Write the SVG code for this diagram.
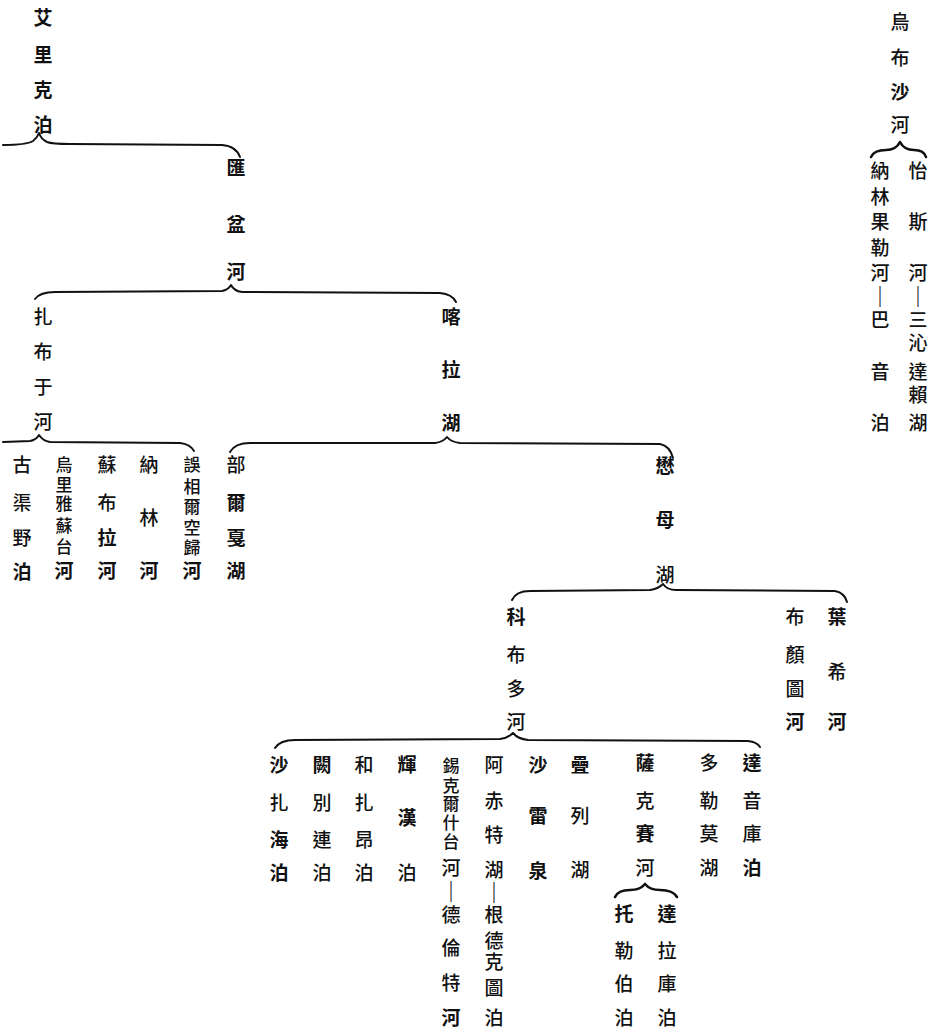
<svg xmlns="http://www.w3.org/2000/svg" width="938" height="1030" viewBox="0 0 938 1030">
<style>
text{font-family:"Liberation Serif","Noto Sans CJK TC","Noto Sans CJK SC",serif;font-size:19px;font-weight:500;fill:#111;text-anchor:middle;dominant-baseline:central}
.s{font-size:17px}
.b{font-weight:bold}
.n{font-weight:500}
.d{font-size:21px;font-weight:bold}
.br{fill:none;stroke:#111;stroke-width:2;stroke-linecap:round;stroke-linejoin:round}
.bt{stroke-width:2.6}
</style>
<rect width="938" height="1030" fill="#fff"/>
<g id="connectors">
<path class="br" d="M3,145 C15,145 28,144 33,141 Q37,138 39,133 Q41,139 47,142 C52,144 60,144 70,144 L222,145 Q236,146 240,157"/>
<path class="br" d="M35,299 Q40,292 55,292 L222,291 Q228,290 231,285 Q234,291 242,292 L440,293 Q452,294 456,302"/>
<path class="br" d="M3,442 L30,441 Q36,440 39,435 Q43,441 50,442 L180,443 Q190,444 194,451"/>
<path class="br" d="M230,452 Q235,443 250,443 L435,443 Q443,442 447,437 Q451,442 460,443 L660,444 Q670,446 673,458"/>
<path class="br" d="M512,600 Q516,591 530,591 L650,590 Q658,589 663,584 Q667,590 676,590 L835,591 Q845,593 847,602"/>
<path class="br" d="M275,748 Q280,740 295,740 L500,739 Q508,738 513,733 Q518,739 528,740 L748,741 Q757,742 760,747"/>
<path class="br bt" d="M615,897 Q618,890 630,890 Q640,890 645,884 Q650,890 660,890 Q673,890 677,897"/>
<path class="br bt" d="M871,157 Q874,150 886,150 Q896,150 900,142 Q904,150 914,150 Q924,150 926,157"/>
</g>
<g id="n-aili"><text class="b"><tspan x="43" y="18">艾</tspan><tspan x="43" y="55">里</tspan><tspan x="43" y="90">克</tspan><tspan x="43" y="125">泊</tspan></text></g>
<g id="n-huipen"><text class="b"><tspan x="236" y="168">匯</tspan><tspan x="236" y="225">盆</tspan><tspan x="236" y="272">河</tspan></text></g>
<g id="n-zabuyu"><text><tspan x="43" y="317">扎</tspan><tspan x="43" y="352">布</tspan><tspan x="43" y="387">于</tspan><tspan x="43" y="422">河</tspan></text></g>
<g id="n-kala"><text class="b"><tspan x="451" y="317">喀</tspan><tspan x="451" y="370">拉</tspan><tspan x="451" y="423">湖</tspan></text></g>
<g id="n-guqu"><text><tspan x="22" y="465">古</tspan><tspan x="22" y="503">渠</tspan><tspan x="22" y="538">野</tspan><tspan x="22" y="572" class="b">泊</tspan></text></g>
<g id="n-wuliyasutai"><text class="s"><tspan x="64" y="465">烏</tspan><tspan x="64" y="485">里</tspan><tspan x="64" y="504">雅</tspan><tspan x="64" y="526">蘇</tspan><tspan x="64" y="547">台</tspan><tspan x="64" y="571" class="b" style="font-size:19px">河</tspan></text></g>
<g id="n-subula"><text><tspan x="107" y="465">蘇</tspan><tspan x="107" y="503">布</tspan><tspan x="107" y="538" class="b">拉</tspan><tspan x="107" y="571" class="b">河</tspan></text></g>
<g id="n-nalin"><text><tspan x="149" y="465">納</tspan><tspan x="149" y="518">林</tspan><tspan x="149" y="571" class="b">河</tspan></text></g>
<g id="n-wuxiang"><text class="s"><tspan x="192" y="465">誤</tspan><tspan x="192" y="487">相</tspan><tspan x="192" y="507">爾</tspan><tspan x="192" y="528">空</tspan><tspan x="192" y="548">歸</tspan><tspan x="192" y="571" class="b" style="font-size:19px">河</tspan></text></g>
<g id="n-buerjia"><text><tspan x="236" y="465">部</tspan><tspan x="236" y="503" class="b">爾</tspan><tspan x="236" y="538" class="b">戛</tspan><tspan x="236" y="571" class="b">湖</tspan></text></g>
<g id="n-maomu"><text class="b"><tspan x="665" y="466">懋</tspan><tspan x="665" y="520">母</tspan><tspan x="665" y="575" class="n">湖</tspan></text></g>
<g id="n-kebuduo"><text><tspan x="516" y="617" class="b">科</tspan><tspan x="516" y="655">布</tspan><tspan x="516" y="689">多</tspan><tspan x="516" y="722">河</tspan></text></g>
<g id="n-buyantu"><text><tspan x="795" y="617">布</tspan><tspan x="795" y="655">顏</tspan><tspan x="795" y="689">圖</tspan><tspan x="795" y="722" class="b">河</tspan></text></g>
<g id="n-yexi"><text><tspan x="837" y="617" class="b">葉</tspan><tspan x="837" y="672">希</tspan><tspan x="837" y="722" class="b">河</tspan></text></g>
<g id="n-shazhahai"><text class="b"><tspan x="279" y="765">沙</tspan><tspan x="279" y="803" class="n">扎</tspan><tspan x="279" y="840">海</tspan><tspan x="279" y="873">泊</tspan></text></g>
<g id="n-quebielian"><text><tspan x="322" y="765" class="b">闕</tspan><tspan x="322" y="803">別</tspan><tspan x="322" y="840">連</tspan><tspan x="322" y="873">泊</tspan></text></g>
<g id="n-hezhaang"><text><tspan x="364" y="765">和</tspan><tspan x="364" y="803">扎</tspan><tspan x="364" y="840">昂</tspan><tspan x="364" y="873">泊</tspan></text></g>
<g id="n-huihan"><text><tspan x="407" y="765" class="b">輝</tspan><tspan x="407" y="818" class="b">漢</tspan><tspan x="407" y="873">泊</tspan></text></g>
<g id="n-xikeer"><text class="s"><tspan x="451" y="766">錫</tspan><tspan x="451" y="786">克</tspan><tspan x="451" y="804">爾</tspan><tspan x="451" y="823">什</tspan><tspan x="451" y="842">台</tspan><tspan x="451" y="868" style="font-size:19px">河</tspan><tspan x="451" y="892" class="d">｜</tspan><tspan x="451" y="915" style="font-size:19px">德</tspan><tspan x="451" y="948" style="font-size:19px">倫</tspan><tspan x="451" y="983" style="font-size:19px">特</tspan><tspan x="451" y="1018" class="b" style="font-size:19px">河</tspan></text></g>
<g id="n-achite"><text><tspan x="494" y="765">阿</tspan><tspan x="494" y="801">赤</tspan><tspan x="494" y="835">特</tspan><tspan x="494" y="870">湖</tspan><tspan x="494" y="893" class="d">｜</tspan><tspan x="494" y="915">根</tspan><tspan x="494" y="941">德</tspan><tspan x="494" y="962">克</tspan><tspan x="494" y="988">圖</tspan><tspan x="494" y="1018">泊</tspan></text></g>
<g id="n-shaleiquan"><text class="b"><tspan x="538" y="765">沙</tspan><tspan x="538" y="816">雷</tspan><tspan x="538" y="871">泉</tspan></text></g>
<g id="n-dielie"><text><tspan x="580" y="765" class="b">疊</tspan><tspan x="580" y="816">列</tspan><tspan x="580" y="870">湖</tspan></text></g>
<g id="n-sakesai"><text><tspan x="645" y="763" class="b">薩</tspan><tspan x="645" y="801">克</tspan><tspan x="645" y="834" class="b">賽</tspan><tspan x="645" y="868">河</tspan></text></g>
<g id="n-duolemo"><text><tspan x="709" y="763">多</tspan><tspan x="709" y="801">勒</tspan><tspan x="709" y="834">莫</tspan><tspan x="709" y="868">湖</tspan></text></g>
<g id="n-dayinku"><text><tspan x="752" y="763" class="b">達</tspan><tspan x="752" y="801">音</tspan><tspan x="752" y="834">庫</tspan><tspan x="752" y="868" class="b">泊</tspan></text></g>
<g id="n-tuolebo"><text><tspan x="624" y="914" class="b">托</tspan><tspan x="624" y="951">勒</tspan><tspan x="624" y="984">伯</tspan><tspan x="624" y="1018">泊</tspan></text></g>
<g id="n-dalaku"><text><tspan x="667" y="914" class="b">達</tspan><tspan x="667" y="951">拉</tspan><tspan x="667" y="984">庫</tspan><tspan x="667" y="1018">泊</tspan></text></g>
<g id="n-wubusha"><text><tspan x="900" y="22">烏</tspan><tspan x="900" y="58">布</tspan><tspan x="900" y="92" class="b">沙</tspan><tspan x="900" y="125">河</tspan></text></g>
<g id="n-nalinguole"><text><tspan x="880" y="171">納</tspan><tspan x="880" y="197">林</tspan><tspan x="880" y="222">果</tspan><tspan x="880" y="248">勒</tspan><tspan x="880" y="273">河</tspan><tspan x="880" y="297" class="d">｜</tspan><tspan x="880" y="320">巴</tspan><tspan x="880" y="372">音</tspan><tspan x="880" y="423">泊</tspan></text></g>
<g id="n-yisi"><text><tspan x="918" y="171">怡</tspan><tspan x="918" y="222">斯</tspan><tspan x="918" y="273">河</tspan><tspan x="918" y="297" class="d">｜</tspan><tspan x="918" y="320">三</tspan><tspan x="918" y="343">沁</tspan><tspan x="918" y="372">達</tspan><tspan x="918" y="395">賴</tspan><tspan x="918" y="423">湖</tspan></text></g>
</svg>
